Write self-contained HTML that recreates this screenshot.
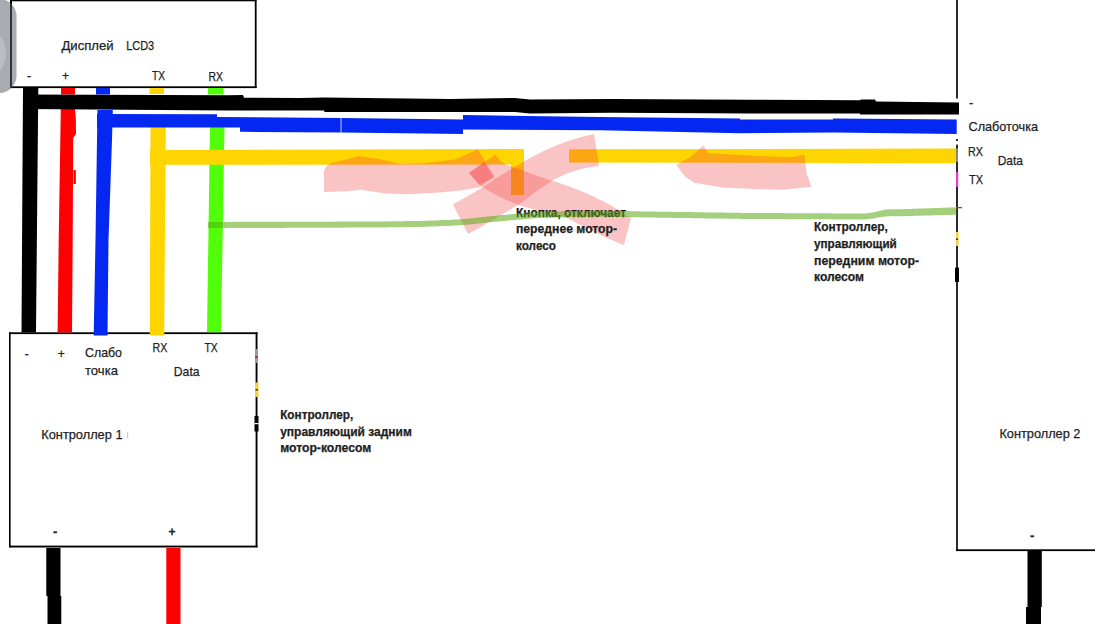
<!DOCTYPE html>
<html><head><meta charset="utf-8">
<style>
html,body{margin:0;padding:0;background:#fff;width:1095px;height:624px;overflow:hidden}
svg{display:block}
text{font-family:"Liberation Sans",sans-serif;fill:#1e1e1e;stroke:#1e1e1e;stroke-width:0.25}
.b{font-weight:bold}
</style></head><body>
<svg width="1095" height="624" viewBox="0 0 1095 624">
<rect x="0" y="0" width="1095" height="624" fill="#fff"/>

<!-- display box -->
<rect x="10" y="0" width="246.5" height="1.3" fill="#000"/>
<rect x="10" y="0" width="2" height="88" fill="#000"/>
<rect x="254.8" y="0" width="1.8" height="88" fill="#000"/>
<rect x="10" y="86.3" width="246.6" height="1.8" fill="#000"/>

<!-- controller 2 -->
<rect x="956" y="0" width="2" height="98.5" fill="#2a2a2a"/>
<rect x="956" y="139" width="2" height="2" fill="#2a2a2a"/>
<rect x="956" y="144.6" width="2" height="406.4" fill="#2a2a2a"/>
<rect x="955.5" y="148.5" width="2.5" height="13.5" fill="#8a8a70"/>
<rect x="956" y="549.3" width="139" height="1.8" fill="#000"/>

<!-- controller 1 box -->
<rect x="9" y="332.3" width="248.5" height="1.8" fill="#000"/>
<rect x="9" y="332.3" width="1.6" height="215" fill="#000"/>
<rect x="255.6" y="332.3" width="1.9" height="215" fill="#000"/>
<rect x="9" y="545.6" width="248.5" height="1.9" fill="#000"/>

<!-- wires: stubs -->
<rect x="61" y="88" width="14" height="6.5" fill="#ff0000"/>
<rect x="96" y="88" width="14" height="6.5" fill="#0427f2"/>
<rect x="149.5" y="88" width="14.5" height="6" fill="#ffd500"/>
<rect x="208" y="88" width="15.5" height="6.5" fill="#50ff08"/>

<!-- black vertical -->
<polygon points="23,88 38.3,88 36,332.5 21.5,332.5" fill="#000"/>
<!-- red vertical -->
<polygon points="60.8,109 75,109 75.8,118 76,134 73.2,138 72.7,240 72,332.5 57.6,332.5 58.7,240" fill="#ff0000"/>
<rect x="73.5" y="170" width="2.3" height="14" fill="#ee0000"/>
<!-- blue vertical -->
<polygon points="97.5,110 112.8,110 112,140 108.5,240 107.5,335.5 93.7,335.5 95.5,240 97,140" fill="#0427f2"/>
<!-- green vertical -->
<polygon points="210,127 224.5,127 221,332.3 207,332.3" fill="#50ff08"/>
<!-- yellow vertical -->
<polygon points="150.5,127 165.8,127 164.2,335.4 149.8,335.4" fill="#ffd500"/>

<!-- black horizontal -->
<polygon points="23,94.5 228,95.2 243,95 244,97.8 300,98 324,97.4 450,98.9 515,98 530,99.6 611,98.9 750,99.8 860,100.3 861,99.4 875,99.4 876,101.4 959,102.5 959,114.6 860,114.5 860,113.4 750,113.5 611,112.8 530,113.5 515,112 450,112 324.5,112 324,110.6 300,110.6 228,110.6 23,109" fill="#000"/>
<!-- blue horizontal -->
<polygon points="97,114 217,114.2 217,117 341,117.9 463,119.4 463,115 600,117 740,118.6 740,119.4 833,119.4 833,118.6 956.7,119.4 956.7,134 833,132.5 740,133.2 600,130.3 463,129.6 463,134 341,132.5 240,131.8 240,127.4 97,127.4" fill="#0427f2"/>
<rect x="340.6" y="117.5" width="0.9" height="15.2" fill="#fff" fill-opacity="0.85"/>
<!-- yellow horizontal -->
<polygon points="150,150 524,149 524,195 511,195 511,164.5 150,164.7" fill="#ffd500"/>
<polygon points="569,149.3 955,148.6 955,163.2 569,162.5" fill="#ffd500"/>

<!-- pink overlays -->
<g fill="#f23a3a" fill-opacity="0.3">
<path d="M324,172 Q325,163 336,162 L358.5,156.3 L377,158.6 L400,164 L423.7,163.3 L455,159.4 L478,149.3 L486,163 L494,176 L480,187.2 L460,190.5 L439,192.6 L408,194.3 L385,193.6 L361.6,189.7 L346,191.2 L324,192 Z"/>
<path d="M676.3,165 L691,156.4 L703.5,145.5 L708,153.3 L737.6,154.8 L768.7,156.4 L792,157.2 L804.4,154.8 L806.7,173.5 L811.4,186.7 L784,189.8 L753,189 L722,187.5 L694,182.8 L685,176.6 Z"/>
<path d="M453,204.5 C475,193 495,179 510.5,169.5 C540,151 565,140 594,134 L599,166 C580,168 565,173 550,182 C535,192 525,200 518,205 C500,216 485,225 468,234 Z"/>
<path d="M469,173 L495.4,154.6 C499,160 502,163 506,164.5 C525,171 540,177 553,181 C575,188 600,197 631,218 L624,245 C610,240 590,230 568,218.5 C550,213 535,210 518,205 C505,199 490,193 479,184.4 Z"/>
<path d="M469,173 L484,162 L494.4,177.7 L479,184.4 Z"/>
</g>

<!-- marks on controller borders -->
<rect x="956" y="172" width="2.2" height="15" fill="#e040c0"/>
<rect x="956" y="207" width="6" height="1.3" fill="#c03030"/>
<rect x="956" y="232" width="2.5" height="14" fill="#f5d040"/>
<rect x="956" y="238.5" width="2" height="1.5" fill="#333"/>
<rect x="955" y="267.6" width="4" height="14.4" fill="#000"/>
<rect x="255" y="349" width="3" height="14" fill="#9a9a9a"/>
<rect x="255" y="356" width="3" height="2" fill="#c03030"/>
<rect x="255" y="382.5" width="3.5" height="14.5" fill="#f5d040"/>
<rect x="255.5" y="389" width="2.5" height="1.5" fill="#333"/>
<rect x="254.5" y="416" width="4" height="15.5" fill="#000"/>
<rect x="254.5" y="423" width="4" height="1.2" fill="#fff"/>
<rect x="127" y="432" width="1.2" height="6" fill="#ccc"/>

<!-- bottom wires -->
<polygon points="46.3,548 60.5,548 60.5,596 61.3,596 61.3,624 47.5,624 47.5,596 46.3,596" fill="#000"/>
<rect x="166.3" y="548" width="14.2" height="76" fill="#ff0000"/>
<polygon points="1027.5,551 1041.8,551 1041.8,607 1041,607 1041,624 1026,624 1026,607 1027.5,607" fill="#000"/>

<!-- texts -->
<text x="61.5" y="49.5" font-size="13" textLength="52" lengthAdjust="spacingAndGlyphs">Дисплей</text>
<text x="126.2" y="49.5" font-size="13" textLength="28" lengthAdjust="spacingAndGlyphs">LCD3</text>
<text x="27" y="80" font-size="13">-</text>
<text x="62" y="80" font-size="12">+</text>
<text x="152" y="79.9" font-size="13" textLength="13" lengthAdjust="spacingAndGlyphs">TX</text>
<text x="208.5" y="80.7" font-size="13" textLength="14.5" lengthAdjust="spacingAndGlyphs">RX</text>

<text x="969" y="107" font-size="13">-</text>
<text x="968.5" y="131" font-size="13" textLength="69.5" lengthAdjust="spacingAndGlyphs">Слаботочка</text>
<text x="968" y="156" font-size="13" textLength="15" lengthAdjust="spacingAndGlyphs">RX</text>
<text x="997.7" y="165.4" font-size="13" textLength="25.3" lengthAdjust="spacingAndGlyphs">Data</text>
<text x="969" y="183.5" font-size="13" textLength="14" lengthAdjust="spacingAndGlyphs">TX</text>
<text x="999.4" y="437.5" font-size="12.7" textLength="81" lengthAdjust="spacingAndGlyphs">Контроллер 2</text>
<text x="1030" y="540" font-size="13" class="b">-</text>

<text x="24.5" y="358" font-size="13">-</text>
<text x="57.7" y="358" font-size="12">+</text>
<text x="85" y="357.4" font-size="13" textLength="37" lengthAdjust="spacingAndGlyphs">Слабо</text>
<text x="85" y="374.5" font-size="13" textLength="33" lengthAdjust="spacingAndGlyphs">точка</text>
<text x="152.5" y="351.8" font-size="13" textLength="14.8" lengthAdjust="spacingAndGlyphs">RX</text>
<text x="204.5" y="351.8" font-size="13" textLength="13.2" lengthAdjust="spacingAndGlyphs">TX</text>
<text x="173.8" y="376" font-size="13" textLength="25.8" lengthAdjust="spacingAndGlyphs">Data</text>
<text x="41.3" y="439" font-size="12.7" textLength="81.2" lengthAdjust="spacingAndGlyphs">Контроллер 1</text>
<text x="53" y="536" font-size="13" class="b">-</text>
<text x="168.5" y="535.5" font-size="12" class="b">+</text>

<text x="280.2" y="419" font-size="12" class="b" textLength="73" lengthAdjust="spacingAndGlyphs">Контроллер,</text>
<text x="280.2" y="435.8" font-size="12" class="b" textLength="131.6" lengthAdjust="spacingAndGlyphs">управляющий задним</text>
<text x="280.2" y="452" font-size="12" class="b" textLength="91" lengthAdjust="spacingAndGlyphs">мотор-колесом</text>

<text x="516" y="216.7" font-size="12" class="b" textLength="110" lengthAdjust="spacingAndGlyphs">Кнопка, отключает</text>
<text x="516" y="233.4" font-size="12" class="b" textLength="101" lengthAdjust="spacingAndGlyphs">переднее мотор-</text>
<text x="516" y="249.7" font-size="12" class="b" textLength="40" lengthAdjust="spacingAndGlyphs">колесо</text>

<text x="814" y="231" font-size="12" class="b" textLength="73.8" lengthAdjust="spacingAndGlyphs">Контроллер,</text>
<text x="814" y="247.8" font-size="12" class="b" textLength="82.8" lengthAdjust="spacingAndGlyphs">управляющий</text>
<text x="814" y="264.5" font-size="12" class="b" textLength="105" lengthAdjust="spacingAndGlyphs">передним мотор-</text>
<text x="814" y="280.5" font-size="12" class="b" textLength="50" lengthAdjust="spacingAndGlyphs">колесом</text>

<!-- green pencil line -->
<polygon points="208.0,221.9 211.0,221.9 214.0,221.9 217.0,221.9 220.0,221.9 223.0,221.9 226.0,221.9 229.0,221.9 232.0,221.9 235.0,221.8 238.0,221.8 241.0,221.8 244.0,221.8 247.0,221.8 250.0,221.8 253.0,221.8 256.0,221.8 259.0,221.8 262.0,221.8 265.0,221.8 268.0,221.8 271.0,221.8 274.0,221.8 277.0,221.8 280.0,221.8 283.0,221.8 286.0,221.7 289.0,221.7 292.0,221.7 295.0,221.7 298.0,221.7 301.0,221.7 304.0,221.7 307.0,221.7 310.0,221.7 313.0,221.7 316.0,221.7 319.0,221.7 322.0,221.7 325.0,221.7 328.0,221.7 331.0,221.7 334.0,221.7 337.0,221.6 340.0,221.6 343.0,221.6 346.0,221.6 349.0,221.6 352.0,221.6 355.0,221.6 358.0,221.6 361.0,221.6 364.0,221.6 367.0,221.5 370.0,221.5 373.0,221.5 376.0,221.4 379.0,221.4 382.0,221.4 385.0,221.4 388.0,221.3 391.0,221.3 394.0,221.3 397.0,221.2 400.0,221.2 403.0,221.2 406.0,221.1 409.0,221.1 412.0,221.1 415.0,221.0 418.0,221.0 421.0,220.9 424.0,220.8 427.0,220.7 430.0,220.6 433.0,220.5 436.0,220.4 439.0,220.2 442.0,220.1 445.0,220.0 448.0,219.9 451.0,219.8 454.0,219.6 457.0,219.5 460.0,219.3 463.0,219.1 466.0,218.8 469.0,218.5 472.0,218.2 475.0,217.9 478.0,217.6 481.0,217.2 484.0,216.9 487.0,216.6 490.0,216.3 493.0,216.0 496.0,215.7 499.0,215.4 502.0,215.1 505.0,214.9 508.0,214.6 511.0,214.3 514.0,214.0 517.0,213.8 520.0,213.5 523.0,213.2 526.0,213.0 529.0,212.7 532.0,212.4 535.0,212.2 538.0,212.0 541.0,211.8 544.0,211.7 547.0,211.6 550.0,211.5 553.0,211.5 556.0,211.4 559.0,211.4 562.0,211.3 565.0,211.2 568.0,211.2 571.0,211.1 574.0,211.1 577.0,211.0 580.0,211.0 583.0,210.9 586.0,210.9 589.0,210.8 592.0,210.7 595.0,210.7 598.0,210.7 601.0,210.7 604.0,210.7 607.0,210.7 610.0,210.8 613.0,210.8 616.0,210.9 619.0,210.9 622.0,211.0 625.0,211.1 628.0,211.1 631.0,211.2 634.0,211.2 637.0,211.3 640.0,211.3 643.0,211.4 646.0,211.4 649.0,211.5 652.0,211.6 655.0,211.6 658.0,211.7 661.0,211.7 664.0,211.8 667.0,211.8 670.0,211.8 673.0,211.9 676.0,211.9 679.0,212.0 682.0,212.0 685.0,212.1 688.0,212.1 691.0,212.1 694.0,212.2 697.0,212.2 700.0,212.3 703.0,212.3 706.0,212.4 709.0,212.4 712.0,212.5 715.0,212.5 718.0,212.5 721.0,212.6 724.0,212.6 727.0,212.7 730.0,212.7 733.0,212.8 736.0,212.8 739.0,212.8 742.0,212.9 745.0,212.9 748.0,213.0 751.0,213.0 754.0,213.0 757.0,213.0 760.0,213.0 763.0,213.1 766.0,213.1 769.0,213.1 772.0,213.1 775.0,213.1 778.0,213.1 781.0,213.1 784.0,213.1 787.0,213.2 790.0,213.2 793.0,213.2 796.0,213.2 799.0,213.2 802.0,213.2 805.0,213.2 808.0,213.2 811.0,213.3 814.0,213.3 817.0,213.3 820.0,213.3 823.0,213.3 826.0,213.3 829.0,213.3 832.0,213.3 835.0,213.4 838.0,213.4 841.0,213.4 844.0,213.4 847.0,213.4 850.0,213.4 853.0,213.4 856.0,213.4 859.0,213.5 862.0,213.5 865.0,213.4 868.0,213.1 871.0,212.7 874.0,212.2 877.0,211.5 880.0,210.7 883.0,210.1 886.0,209.6 889.0,209.3 892.0,209.2 895.0,209.2 898.0,209.2 901.0,209.2 904.0,209.1 907.0,209.0 910.0,208.9 913.0,208.8 916.0,208.7 919.0,208.6 922.0,208.5 925.0,208.4 928.0,208.3 931.0,208.2 934.0,208.1 937.0,208.0 940.0,207.9 943.0,207.8 946.0,207.7 949.0,207.5 952.0,207.5 955.0,207.4 956.5,207.3 956.5,214.7 955.0,214.8 952.0,214.8 949.0,214.9 946.0,215.0 943.0,215.1 940.0,215.1 937.0,215.2 934.0,215.3 931.0,215.4 928.0,215.5 925.0,215.6 922.0,215.7 919.0,215.7 916.0,215.8 913.0,215.9 910.0,216.0 907.0,216.1 904.0,216.1 901.0,216.2 898.0,216.2 895.0,216.2 892.0,216.1 889.0,216.2 886.0,216.4 883.0,216.7 880.0,217.2 877.0,217.8 874.0,218.4 871.0,218.8 868.0,219.1 865.0,219.4 862.0,219.5 859.0,219.5 856.0,219.4 853.0,219.4 850.0,219.4 847.0,219.4 844.0,219.4 841.0,219.4 838.0,219.4 835.0,219.4 832.0,219.3 829.0,219.3 826.0,219.3 823.0,219.3 820.0,219.3 817.0,219.3 814.0,219.3 811.0,219.3 808.0,219.2 805.0,219.2 802.0,219.2 799.0,219.2 796.0,219.2 793.0,219.2 790.0,219.2 787.0,219.2 784.0,219.1 781.0,219.1 778.0,219.1 775.0,219.1 772.0,219.1 769.0,219.1 766.0,219.1 763.0,219.1 760.0,219.0 757.0,219.0 754.0,219.0 751.0,219.0 748.0,219.0 745.0,218.9 742.0,218.9 739.0,218.8 736.0,218.8 733.0,218.8 730.0,218.7 727.0,218.7 724.0,218.6 721.0,218.6 718.0,218.5 715.0,218.5 712.0,218.5 709.0,218.4 706.0,218.4 703.0,218.3 700.0,218.3 697.0,218.2 694.0,218.2 691.0,218.1 688.0,218.1 685.0,218.1 682.0,218.0 679.0,218.0 676.0,217.9 673.0,217.9 670.0,217.8 667.0,217.8 664.0,217.8 661.0,217.7 658.0,217.7 655.0,217.6 652.0,217.6 649.0,217.5 646.0,217.4 643.0,217.4 640.0,217.3 637.0,217.3 634.0,217.2 631.0,217.2 628.0,217.1 625.0,217.1 622.0,217.0 619.0,216.9 616.0,216.9 613.0,216.8 610.0,216.8 607.0,216.7 604.0,216.7 601.0,216.7 598.0,216.7 595.0,216.7 592.0,216.7 589.0,216.8 586.0,216.9 583.0,216.9 580.0,217.0 577.0,217.0 574.0,217.1 571.0,217.1 568.0,217.2 565.0,217.2 562.0,217.3 559.0,217.4 556.0,217.4 553.0,217.5 550.0,217.5 547.0,217.6 544.0,217.7 541.0,217.8 538.0,218.0 535.0,218.2 532.0,218.4 529.0,218.7 526.0,219.0 523.0,219.2 520.0,219.5 517.0,219.8 514.0,220.0 511.0,220.3 508.0,220.6 505.0,220.9 502.0,221.1 499.0,221.4 496.0,221.7 493.0,222.0 490.0,222.3 487.0,222.6 484.0,222.9 481.0,223.2 478.0,223.6 475.0,223.9 472.0,224.2 469.0,224.5 466.0,224.8 463.0,225.1 460.0,225.3 457.0,225.5 454.0,225.6 451.0,225.8 448.0,225.9 445.0,226.0 442.0,226.1 439.0,226.2 436.0,226.4 433.0,226.5 430.0,226.6 427.0,226.7 424.0,226.8 421.0,226.9 418.0,227.0 415.0,227.0 412.0,227.1 409.0,227.1 406.0,227.1 403.0,227.2 400.0,227.2 397.0,227.2 394.0,227.3 391.0,227.3 388.0,227.3 385.0,227.4 382.0,227.4 379.0,227.4 376.0,227.4 373.0,227.5 370.0,227.5 367.0,227.5 364.0,227.6 361.0,227.6 358.0,227.6 355.0,227.6 352.0,227.6 349.0,227.6 346.0,227.6 343.0,227.7 340.0,227.7 337.0,227.7 334.0,227.7 331.0,227.7 328.0,227.7 325.0,227.7 322.0,227.7 319.0,227.7 316.0,227.7 313.0,227.8 310.0,227.8 307.0,227.8 304.0,227.8 301.0,227.8 298.0,227.8 295.0,227.8 292.0,227.8 289.0,227.8 286.0,227.8 283.0,227.9 280.0,227.9 277.0,227.9 274.0,227.9 271.0,227.9 268.0,227.9 265.0,227.9 262.0,227.9 259.0,227.9 256.0,227.9 253.0,228.0 250.0,228.0 247.0,228.0 244.0,228.0 241.0,228.0 238.0,228.0 235.0,228.0 232.0,228.0 229.0,228.0 226.0,228.0 223.0,228.1 220.0,228.1 217.0,228.1 214.0,228.1 211.0,228.1 208.0,228.1" fill="rgb(90,170,20)" fill-opacity="0.55"/>
<!-- gray overlay (phone UI button) -->
<rect x="-20" y="-1" width="36.5" height="94" rx="17" ry="17" fill="rgb(90,98,109)" fill-opacity="0.53"/>
<ellipse cx="-18" cy="53" rx="24" ry="27" fill="#fff" fill-opacity="0.2"/>
</svg>
</body></html>
